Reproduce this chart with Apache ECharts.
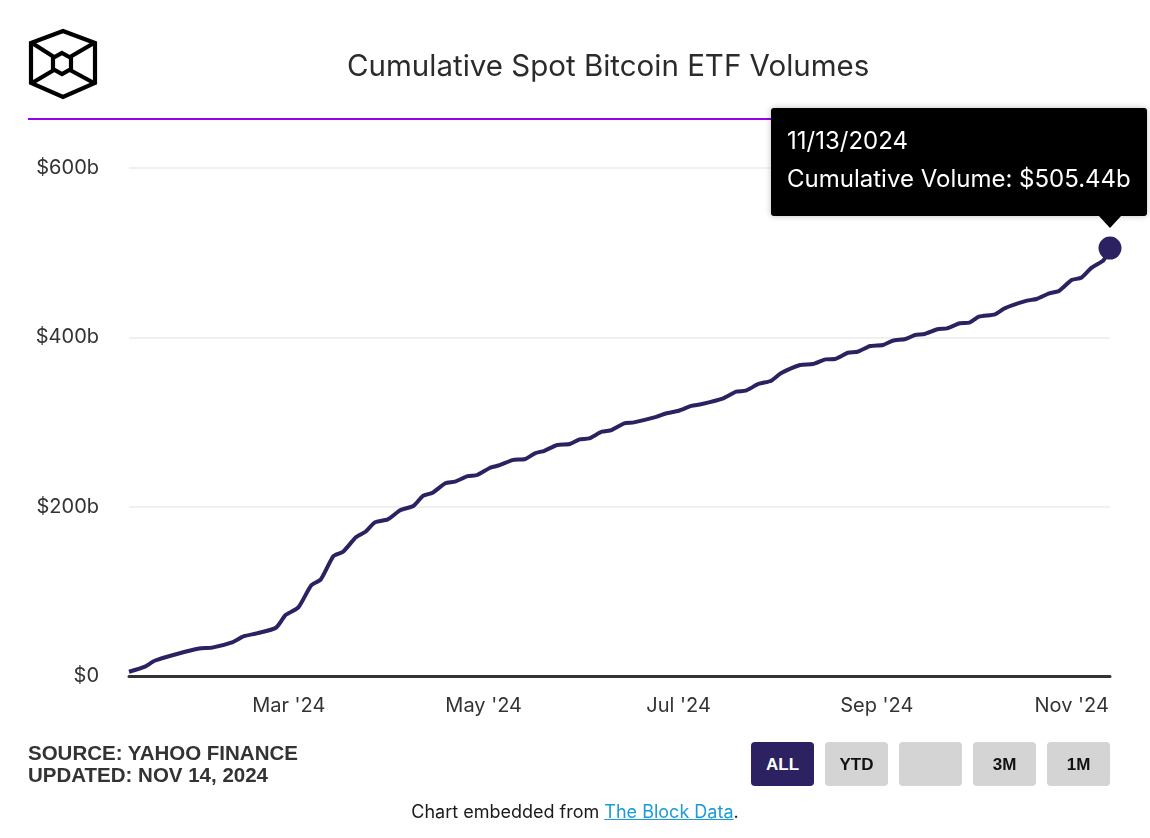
<!DOCTYPE html>
<html>
<head>
<meta charset="utf-8">
<style>
  body { margin: 0; width: 1150px; height: 838px; background: #fff; position: relative; overflow: hidden; font-family: Inter, sans-serif; }
  #rule { position: absolute; left: 28px; top: 118px; width: 1090px; height: 2px; background: #9a00ea; }
  #chart { position: absolute; left: 0; top: 0; width: 1150px; height: 838px; }
  #logo { position: absolute; left: 26px; top: 26px; }
  .src { position: absolute; left: 28px; top: 742px; font-family: 'Liberation Sans Narrow', 'Liberation Sans', Arial, sans-serif; font-weight: bold; font-size: 20.5px; line-height: 22px; color: #333; }
  .btn { position: absolute; top: 742px; width: 63px; height: 44px; border-radius: 4px; background: #d4d4d4; font: bold 17px 'Liberation Sans', Arial, sans-serif; line-height: 46px; text-align: center; color: #111; }
  .btn.on { background: #2c2161; color: #fff; }
  .foot { position: absolute; left: 0; width: 1150px; top: 801px; text-align: center; font-size: 18px; color: #1a1a1a; }
  .foot a { color: #1b9bd7; text-decoration: underline; }
</style>
</head>
<body>
  <div id="rule"></div>
  <div id="chart"></div>
  <svg id="logo" width="76" height="76" viewBox="26 26 76 76">
    <g fill="none" stroke="#000" stroke-width="4.2" stroke-linejoin="miter">
      <polygon points="63,31 95,43 95,83 63,97 31,83 31,43"/>
      <polygon points="62,53 71,58 71,69 62,74 53,69 53,58"/>
      <line x1="32" y1="43" x2="54" y2="57"/>
      <line x1="94" y1="43" x2="70" y2="57"/>
      <line x1="32" y1="83" x2="54" y2="70"/>
      <line x1="94" y1="83" x2="70" y2="70"/>
    </g>
  </svg>
  <div class="src">SOURCE: YAHOO FINANCE<br>UPDATED: NOV 14, 2024</div>
  <div class="btn on" style="left:751px">ALL</div>
  <div class="btn" style="left:825px">YTD</div>
  <div class="btn" style="left:899px"></div>
  <div class="btn" style="left:973px">3M</div>
  <div class="btn" style="left:1047px">1M</div>
  <div class="foot">Chart embedded from <a>The Block Data</a>.</div>

  <script type="text/javascript" src="https://cdn.jsdelivr.net/npm/echarts@6.0.0/dist/echarts.min.js"></script>
  <script type="text/javascript">
    // cumulative volume, $b
    var dates = [
      '2024-01-11', '2024-01-16', '2024-01-19', '2024-01-26', '2024-02-02', '2024-02-06',
      '2024-02-12', '2024-02-16', '2024-02-20', '2024-02-26', '2024-02-29', '2024-03-04',
      '2024-03-08', '2024-03-11', '2024-03-15', '2024-03-18', '2024-03-22', '2024-03-25',
      '2024-03-28', '2024-04-01', '2024-04-05', '2024-04-09', '2024-04-12', '2024-04-15',
      '2024-04-19', '2024-04-22', '2024-04-26', '2024-04-29', '2024-05-03', '2024-05-06',
      '2024-05-10', '2024-05-14', '2024-05-17', '2024-05-20', '2024-05-24', '2024-05-28',
      '2024-05-31', '2024-06-03', '2024-06-07', '2024-06-10', '2024-06-14', '2024-06-17',
      '2024-06-24', '2024-06-27', '2024-07-01', '2024-07-05', '2024-07-08', '2024-07-15',
      '2024-07-19', '2024-07-22', '2024-07-26', '2024-07-30', '2024-08-02', '2024-08-08',
      '2024-08-12', '2024-08-16', '2024-08-19', '2024-08-23', '2024-08-26', '2024-08-30',
      '2024-09-03', '2024-09-06', '2024-09-10', '2024-09-13', '2024-09-16', '2024-09-20',
      '2024-09-23', '2024-09-27', '2024-09-30', '2024-10-03', '2024-10-08', '2024-10-11',
      '2024-10-18', '2024-10-21', '2024-10-25', '2024-10-28', '2024-11-01', '2024-11-04',
      '2024-11-07', '2024-11-11', '2024-11-13'
    ];
    var volumes = [
      5, 11, 18, 26, 32.5, 33.5,
      39.4, 47, 50.4, 57, 72, 81,
      107, 114, 141.7, 146.8, 163.8, 170.4,
      181.5, 185, 196, 200.8, 212.8, 216.5,
      227.6, 229.5, 236, 237.4, 246, 249,
      255, 256.3, 263, 266, 272.8, 274,
      279.5, 280.7, 288.5, 290.5, 298.4, 299.6,
      306, 310, 313.3, 319, 321, 328,
      335.8, 337, 344.9, 348.8, 357.5, 367.3,
      368.5, 374, 374.4, 381.8, 383, 389.7,
      391, 396, 398, 402.7, 404, 409.5,
      410.6, 416.6, 417.3, 424.4, 427.2, 434.3,
      443.3, 445.3, 452, 454.7, 467.7, 470.4,
      481.5, 491.3, 505.44
    ];
    var tickDates = ['2024-03-01', '2024-05-01', '2024-07-01', '2024-09-01', '2024-11-01'];
    var tickLabels = ["Mar '24", "May '24", "Jul '24", "Sep '24", "Nov '24"];
    var tipDate = '11/13/2024';

    var lineColor = '#2c2161';
    var font = 'Inter';

    function ts(d) {
      var p = d.split('-');
      return new Date(+p[0], +p[1] - 1, +p[2]).getTime();
    }

    var seriesData = dates.map(function (d, i) { return [ts(d), volumes[i]]; });
    var tickValues = tickDates.map(ts);
    var last = seriesData[seriesData.length - 1];

    var chart = echarts.init(document.getElementById('chart'));

    var option = {
      animation: false,
      textStyle: { fontFamily: font },
      title: {
        text: 'Cumulative Spot Bitcoin ETF Volumes',
        left: 342,
        top: 47,
        textStyle: { fontFamily: font, fontSize: 29.5, fontWeight: 'normal', color: '#2b2b2b' }
      },
      grid: { left: 129, right: 40, top: 168, bottom: 162 },
      xAxis: {
        type: 'value',
        min: ts('2024-01-11'),
        max: ts('2024-11-13'),
        axisLine: { lineStyle: { color: '#333', width: 3 } },
        axisTick: { show: false },
        splitLine: { show: false },
        axisLabel: {
          customValues: tickValues,
          margin: 20,
          fontSize: 20,
          color: '#333',
          formatter: function (v) {
            var i = tickValues.indexOf(v);
            return i >= 0 ? tickLabels[i] : '';
          }
        }
      },
      yAxis: {
        type: 'value',
        min: 0,
        max: 600,
        interval: 200,
        axisLine: { show: false },
        axisTick: { show: false },
        splitLine: { lineStyle: { color: '#ebebeb', width: 1.5 } },
        axisLabel: {
          margin: 30,
          fontSize: 20,
          color: '#333',
          formatter: function (v) { return v === 0 ? '$0' : '$' + v + 'b'; }
        }
      },
      series: [
        {
          type: 'line',
          data: seriesData,
          showSymbol: false,
          smooth: 0.2,
          lineStyle: { color: lineColor, width: 4 },
          z: 3
        },
        {
          type: 'scatter',
          data: [last],
          symbolSize: 23,
          itemStyle: { color: lineColor, opacity: 1 },
          z: 4
        }
      ]
    };
    chart.setOption(option);

    // tooltip box anchored to the last point
    var p = chart.convertToPixel({ gridIndex: 0 }, last);
    var bx = p[0] - 339, by = p[1] - 140;
    chart.setOption({
      graphic: [
        {
          type: 'rect',
          shape: { x: bx, y: by, width: 376, height: 108, r: 3 },
          style: { fill: '#000', shadowBlur: 6, shadowColor: 'rgba(0,0,0,0.25)' },
          z: 10
        },
        {
          type: 'polygon',
          shape: { points: [[p[0] - 12, p[1] - 33], [p[0] + 12, p[1] - 33], [p[0], p[1] - 20]] },
          style: { fill: '#000' },
          z: 10
        },
        {
          type: 'text',
          x: bx + 16, y: by + 34,
          style: { text: tipDate, fill: '#fff', font: '24px ' + font, verticalAlign: 'middle' },
          z: 11
        },
        {
          type: 'text',
          x: bx + 16, y: by + 72,
          style: { text: 'Cumulative Volume: $' + last[1].toFixed(2) + 'b', fill: '#fff', font: '24px ' + font, verticalAlign: 'middle' },
          z: 11
        }
      ]
    });
  </script>
</body>
</html>
